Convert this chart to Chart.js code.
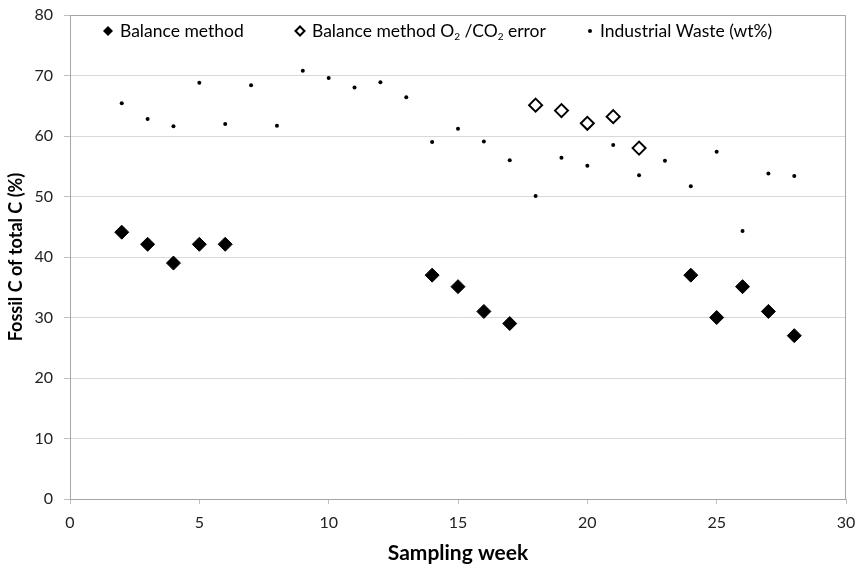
<!DOCTYPE html>
<html>
<head>
<meta charset="utf-8">
<script src="https://cdn.jsdelivr.net/npm/chart.js@4"></script>
<style>
  html, body { margin: 0; padding: 0; background: #fff; }
  #wrap { width: 857px; height: 566px; }
</style>
</head>
<body>
<div id="wrap"><canvas id="fossilChart" width="857" height="566"></canvas></div>
<script>
// Sampling weeks and fossil C share (%)
const balanceWeeks = [2, 3, 4, 5, 6, 14, 15, 16, 17, 24, 25, 26, 27, 28];
const balanceValues = [44.1, 42.1, 39.0, 42.1, 42.1, 37.0, 35.1, 31.0, 29.0, 37.0, 30.0, 35.1, 31.0, 27.0];

const errorWeeks = [18, 19, 20, 21, 22];
const errorValues = [65.1, 64.2, 62.1, 63.2, 58.0];

const wasteWeeks = [2, 3, 4, 5, 6, 7, 8, 9, 10, 11, 12, 13, 14, 15, 16, 17, 18, 19, 20, 21, 22, 23, 24, 25, 26, 27, 28];
const wasteValues = [65.4, 62.8, 61.6, 68.8, 62.0, 68.4, 61.7, 70.8, 69.6, 68.0, 68.9, 66.4, 59.0, 61.2, 59.1, 56.0, 50.1, 56.4, 55.1, 58.5, 53.5, 55.9, 51.7, 57.4, 44.3, 53.8, 53.4];

const xTicks = [0, 5, 10, 15, 20, 25, 30];
const yTicks = [0, 10, 20, 30, 40, 50, 60, 70, 80];

const FONT = 'Lato, "Open Sans", sans-serif';

function toPoints(xs, ys) {
    return xs.map((x, i) => ({ x, y: ys[i] }));
}

// legend sits inside the plot frame, just under the top edge
const insideLegend = {
    id: 'insideLegend',
    afterDraw(chart) {
        const { ctx, chartArea } = chart;
        const y = chartArea.top + 16;
        ctx.save();
        ctx.fillStyle = '#000';
        ctx.strokeStyle = '#000';
        ctx.textBaseline = 'middle';
        ctx.font = '17.5px ' + FONT;

        const diamond = (cx, r, fill) => {
            ctx.beginPath();
            ctx.moveTo(cx - r, y);
            ctx.lineTo(cx, y - r);
            ctx.lineTo(cx + r, y);
            ctx.lineTo(cx, y + r);
            ctx.closePath();
            if (fill) ctx.fill();
            else { ctx.lineWidth = 2; ctx.stroke(); }
        };

        // item 1
        let x = chartArea.left + 38;
        diamond(x, 5, true);
        ctx.fillText('Balance method', x + 12, y);

        // item 2, with subscripts
        x = chartArea.left + 230;
        diamond(x, 4.5, false);
        let tx = x + 12;
        const parts = [['Balance method O', false], ['2', true], [' /CO', false], ['2', true], [' error', false]];
        parts.forEach(([txt, sub]) => {
            ctx.font = (sub ? '10px ' : '17.5px ') + FONT;
            ctx.fillText(txt, tx, sub ? y + 6 : y);
            tx += ctx.measureText(txt).width;
        });

        // item 3
        ctx.font = '17.5px ' + FONT;
        x = chartArea.left + 520;
        ctx.beginPath();
        ctx.arc(x, y, 2, 0, Math.PI * 2);
        ctx.fill();
        ctx.fillText('Industrial Waste (wt%)', x + 10, y);
        ctx.restore();
    }
};

// gray frame around the plot area
const plotFrame = {
    id: 'plotFrame',
    afterDatasetsDraw(chart) {
        const { ctx, chartArea } = chart;
        ctx.save();
        ctx.strokeStyle = '#a6a6a6';
        ctx.lineWidth = 1;
        ctx.strokeRect(chartArea.left + 0.5, chartArea.top + 0.5, chartArea.width - 1, chartArea.height);
        ctx.restore();
    }
};

new Chart(document.getElementById('fossilChart'), {
    type: 'scatter',
    data: {
        datasets: [
            {
                label: 'Balance method',
                data: toPoints(balanceWeeks, balanceValues),
                pointStyle: 'rectRot',
                pointRadius: 7,
                backgroundColor: '#000',
                borderColor: '#000',
                borderWidth: 1,
            },
            {
                label: 'Balance method O2 /CO2 error',
                data: toPoints(errorWeeks, errorValues),
                pointStyle: 'rectRot',
                pointRadius: 6.5,
                backgroundColor: '#fff',
                borderColor: '#000',
                borderWidth: 2,
            },
            {
                label: 'Industrial Waste (wt%)',
                data: toPoints(wasteWeeks, wasteValues),
                pointStyle: 'circle',
                pointRadius: 2,
                backgroundColor: '#000',
                borderColor: '#000',
                borderWidth: 0,
            },
        ],
    },
    options: {
        responsive: false,
        animation: false,
        layout: { padding: { top: 15, right: 11, left: 0, bottom: 0 } },
        scales: {
            x: {
                type: 'linear',
                min: 0,
                max: 30,
                afterBuildTicks: axis => { axis.ticks = xTicks.map(v => ({ value: v })); },
                afterFit: axis => { axis.height = 67; axis.paddingLeft = 0; axis.paddingRight = 0; },
                grid: { display: true, drawOnChartArea: false, drawTicks: true, tickLength: 5, color: '#bfbfbf' },
                border: { color: '#bfbfbf' },
                ticks: { color: '#222', font: { family: FONT, size: 16 }, padding: 9, maxRotation: 0 },
                title: { display: true, text: 'Sampling week', color: '#000', font: { family: FONT, size: 21, weight: 'bold' }, padding: { top: 0, bottom: 0 } },
            },
            y: {
                min: 0,
                max: 80,
                afterBuildTicks: axis => { axis.ticks = yTicks.map(v => ({ value: v })); },
                afterFit: axis => { axis.width = 70; axis.paddingTop = 0; axis.paddingBottom = 0; },
                grid: { color: '#d9d9d9', tickLength: 6, tickColor: '#bfbfbf' },
                border: { color: '#bfbfbf' },
                ticks: { color: '#222', font: { family: FONT, size: 16 }, padding: 11 },
                title: { display: true, text: 'Fossil C of total C (%)', color: '#000', font: { family: FONT, size: 18, weight: 'bold' }, padding: { top: 5, bottom: 0 } },
            },
        },
        plugins: {
            legend: { display: false },
            tooltip: { enabled: false },
        },
    },
    plugins: [plotFrame, insideLegend],
});
</script>
</body>
</html>
